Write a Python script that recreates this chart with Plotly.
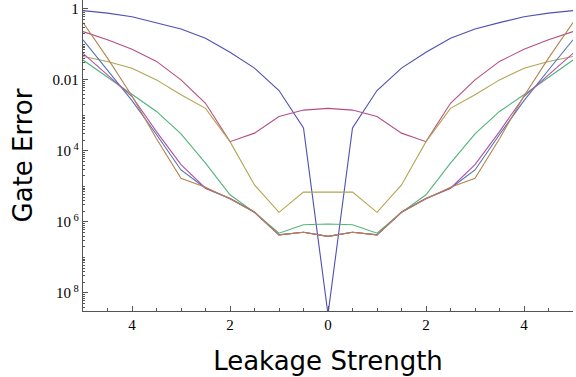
import plotly.graph_objects as go

x_vals = [-5, -4.5, -4, -3.5, -3, -2.5, -2, -1.5, -1, -0.5, 0,
          0.5, 1, 1.5, 2, 2.5, 3, 3.5, 4, 4.5, 5]

s1 = [0.89, 0.76, 0.60, 0.41, 0.27, 0.148, 0.060, 0.0214, 0.0050, 4.4e-4, 2.5e-9,
      4.4e-4, 0.0050, 0.0214, 0.060, 0.148, 0.27, 0.41, 0.60, 0.76, 0.89]
s2 = [0.229, 0.135, 0.0724, 0.0331, 0.010, 2.19e-3, 1.82e-4, 3.16e-4, 9.3e-4, 1.41e-3, 1.58e-3,
      1.41e-3, 9.3e-4, 3.16e-4, 1.82e-4, 2.19e-3, 0.010, 0.0331, 0.0724, 0.135, 0.229]
s3 = [0.0457, 0.0331, 0.0214, 0.0100, 3.8e-3, 1.58e-3, 1.82e-4, 1.10e-5, 1.86e-6, 6.9e-6, 6.9e-6,
      6.9e-6, 1.86e-6, 1.10e-5, 1.82e-4, 1.58e-3, 3.8e-3, 0.0100, 0.0214, 0.0331, 0.0457]
s4 = [0.0363, 0.0117, 3.8e-3, 1.29e-3, 3.0e-4, 4.5e-5, 5.8e-6, 1.86e-6, 4.8e-7, 8.3e-7, 8.7e-7,
      8.3e-7, 4.8e-7, 1.86e-6, 5.8e-6, 4.5e-5, 3.0e-4, 1.29e-3, 3.8e-3, 0.0117, 0.0363]
s5 = [0.135, 0.019, 2.6e-3, 2.9e-4, 2.9e-5, 8.9e-6, 4.5e-6, 1.86e-6, 4.3e-7, 5.1e-7, 3.9e-7,
      5.1e-7, 4.3e-7, 1.86e-6, 4.5e-6, 8.9e-6, 2.9e-5, 2.9e-4, 2.6e-3, 0.019, 0.135]
s6 = [0.056, 0.0138, 3.4e-3, 3.5e-4, 4.1e-5, 8.9e-6, 4.6e-6, 1.9e-6, 4.3e-7, 5.1e-7, 3.9e-7,
      5.1e-7, 4.3e-7, 1.9e-6, 4.6e-6, 8.9e-6, 4.1e-5, 3.5e-4, 3.4e-3, 0.0138, 0.056]
s7 = [0.41, 0.041, 3.5e-3, 2.2e-4, 1.7e-5, 9.5e-6, 4.5e-6, 1.86e-6, 4.3e-7, 5.1e-7, 3.9e-7,
      5.1e-7, 4.3e-7, 1.86e-6, 4.5e-6, 9.5e-6, 1.7e-5, 2.2e-4, 3.5e-3, 0.041, 0.41]

series = [s1, s2, s3, s4, s5, s6, s7]
colors = ["#4f4fb4", "#b44f86", "#b4a450", "#4fb47a", "#4f74b4", "#b44fab", "#b4854f"]

x_tickvals = [-4, -2, 0, 2, 4]
x_ticktext = ["4", "2", "0", "2", "4"]
y_tickvals = [1, 0.01, 1e-4, 1e-6, 1e-8]
y_ticktext = ["1", "0.01", "10<sup> 4</sup>", "10<sup> 6</sup>", "10<sup> 8</sup>"]
x_minor = [-5, -4.5, -3.5, -3, -2.5, -1.5, -1, -0.5, 0.5, 1, 1.5, 2.5, 3, 3.5, 4.5, 5]
y_minor = [m * 10.0 ** k for k in range(-9, 1) for m in range(2, 10)] + [1e-1, 1e-3, 1e-5, 1e-7]

fig = go.Figure()
for s, c in zip(series, colors):
    fig.add_trace(go.Scatter(x=x_vals, y=s, mode="lines",
                             line=dict(color=c, width=1.1), showlegend=False))

axis_col = "#555555"
tick_font = dict(family="Liberation Serif", size=15, color="black")
fig.update_layout(
    width=576, height=377,
    margin=dict(l=83, r=3, t=0, b=66),
    paper_bgcolor="white", plot_bgcolor="white",
    font=dict(family="Liberation Serif", size=15, color="black"),
    xaxis=dict(range=[-5, 5], tickmode="array", tickvals=x_tickvals, ticktext=x_ticktext,
               tickfont=tick_font,
               ticks="inside", ticklen=5, tickcolor=axis_col, showgrid=False, zeroline=False,
               showline=True, linecolor=axis_col, linewidth=1.3,
               minor=dict(tickmode="array", tickvals=x_minor, ticks="inside", ticklen=3,
                          tickcolor=axis_col, showgrid=False),
               title=dict(text="Leakage Strength", standoff=19,
                          font=dict(family="DejaVu Sans", size=26, color="black"))),
    yaxis=dict(type="log", range=[-8.51, 0.25], tickmode="array", tickvals=y_tickvals,
               ticktext=y_ticktext, tickfont=tick_font,
               ticks="inside", ticklen=5, tickcolor=axis_col,
               showgrid=False, zeroline=False, showline=True, linecolor=axis_col, linewidth=1.3,
               minor=dict(tickmode="array", tickvals=y_minor, ticks="inside", ticklen=2,
                          tickcolor=axis_col, showgrid=False),
               title=dict(text="Gate Error", standoff=12,
                          font=dict(family="DejaVu Sans", size=26, color="black"))),
)

fig.write_html("out.html")
